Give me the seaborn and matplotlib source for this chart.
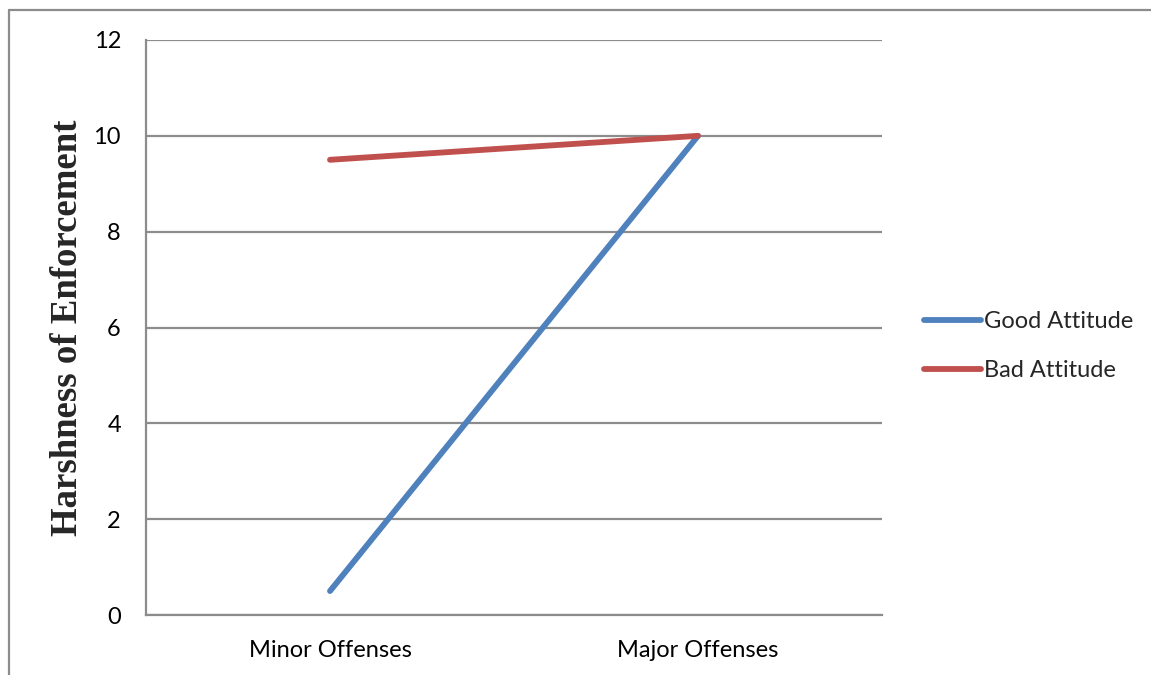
import matplotlib
matplotlib.use("Agg")
import matplotlib.pyplot as plt
from matplotlib.lines import Line2D
import seaborn as sns
import pandas as pd

# Data
categories = ["Minor Offenses", "Major Offenses"]
good_attitude = [0.5, 10]
bad_attitude = [9.5, 10]
series_names = ["Good Attitude", "Bad Attitude"]
y_ticks = [0, 2, 4, 6, 8, 10, 12]

rows = []
for name, vals in zip(series_names, [good_attitude, bad_attitude]):
    for i, v in enumerate(vals):
        rows.append({"pos": i, "Offense": categories[i], "Series": name, "Harshness": v})
df = pd.DataFrame(rows)

sns.set_theme(style="white")
plt.rcParams["font.family"] = ["Lato", "DejaVu Sans"]

GRID = "#8c8c8c"
palette = {"Good Attitude": "#4F81BD", "Bad Attitude": "#C0504D"}
LW = 4.2

fig = plt.figure(figsize=(11.51, 6.75), dpi=100)
ax = fig.add_axes([146 / 1151, 60 / 675, (882 - 146) / 1151, (615 - 40) / 675])

sns.lineplot(data=df, x="pos", y="Harshness", hue="Series", palette=palette,
             linewidth=LW, ax=ax, legend=False, solid_capstyle="round", zorder=3)

ax.set_xlim(-0.5, 1.5)
ax.set_ylim(0, 12)
ax.set_xticks(range(len(categories)))
ax.set_xticklabels(categories)
ax.set_yticks(y_ticks)
ax.set_yticklabels([str(t) for t in y_ticks])
ax.tick_params(axis="both", length=0, labelsize=17, colors="black")
ax.tick_params(axis="y", pad=18)
ax.tick_params(axis="x", pad=18)

ax.yaxis.grid(True, color=GRID, linewidth=1.6, zorder=0)
ax.xaxis.grid(False)
for side in ["top", "right"]:
    ax.spines[side].set_visible(False)
for side in ["left", "bottom"]:
    ax.spines[side].set_color(GRID)
    ax.spines[side].set_linewidth(1.6)

ax.set_xlabel("")
ax.set_ylabel("Harshness of Enforcement", family=["Liberation Serif", "DejaVu Serif"],
              fontweight="bold", fontsize=26.5, labelpad=6)

handles = [Line2D([0], [0], color=palette[n], linewidth=LW, solid_capstyle="round")
           for n in series_names]
fig.legend(handles, series_names, loc="center left",
           bbox_to_anchor=(903 / 1151, 1 - 346 / 675), frameon=False,
           fontsize=17, handlelength=2.4, handletextpad=0.15, labelspacing=1.2)

# Outer frame edges (left and top)
fig.add_artist(Line2D([9 / 1151, 9 / 1151], [0, 1 - 10 / 675],
                      transform=fig.transFigure, color=GRID, linewidth=1.6))
fig.add_artist(Line2D([9 / 1151, 1], [1 - 10 / 675, 1 - 10 / 675],
                      transform=fig.transFigure, color=GRID, linewidth=1.6))

fig.savefig("out.png", dpi=100)
